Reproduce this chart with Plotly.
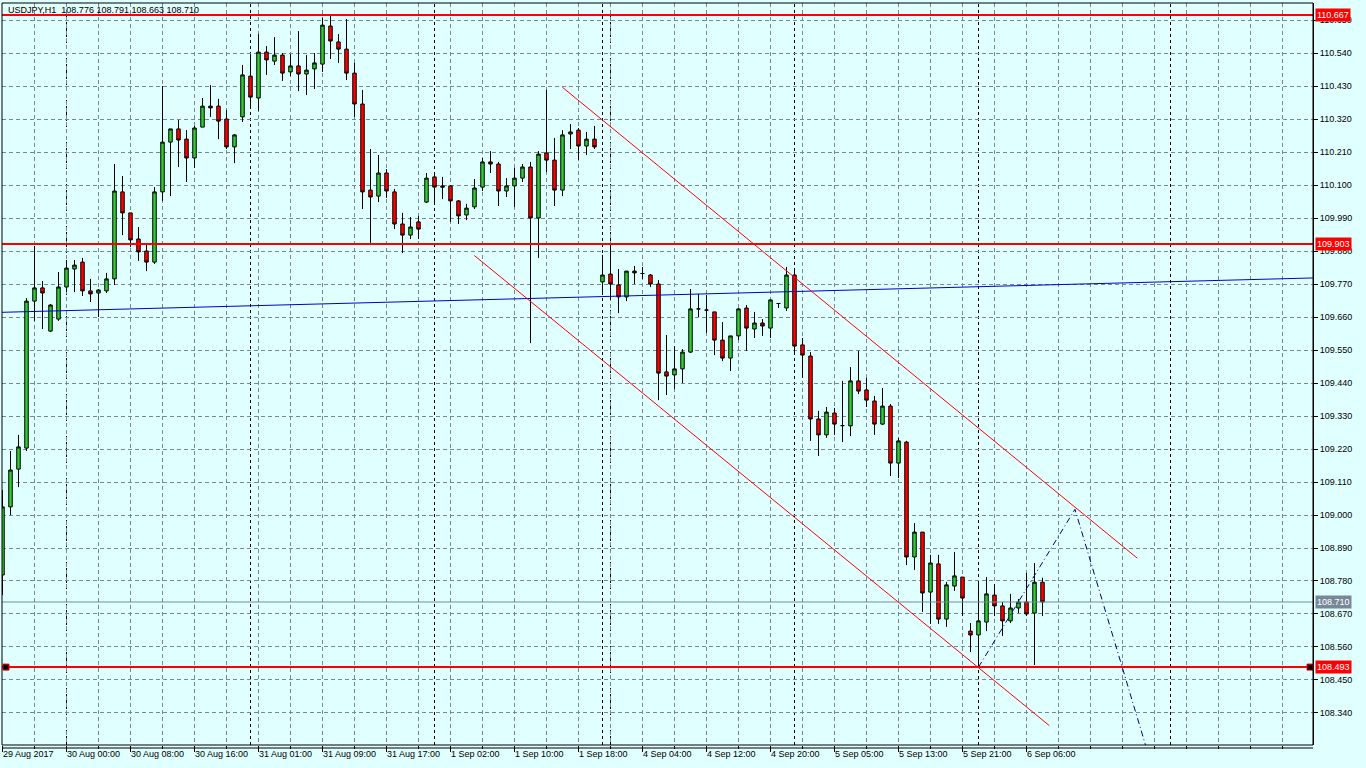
import plotly.graph_objects as go

# ---- hourly USDJPY candles (bar index 0 = 29 Aug 2017 16:00) ----
opens = [108.800, 109.027, 109.153, 109.223, 109.713, 109.757, 109.613, 109.653, 109.760, 109.820,
         109.843, 109.747, 109.740, 109.747, 109.787, 110.077, 110.007, 109.920, 109.880, 109.843,
         110.077, 110.243, 110.287, 110.253, 110.190, 110.293, 110.363, 110.363, 110.320, 110.227,
         110.327, 110.463, 110.390, 110.543, 110.513, 110.533, 110.477, 110.497, 110.470, 110.487,
         110.503, 110.630, 110.577, 110.553, 110.473, 110.370, 110.083, 110.063, 110.140, 110.077,
         109.970, 109.933, 109.977, 110.043, 110.127, 110.097, 110.097, 110.047, 110.000, 110.027,
         110.093, 110.177, 110.170, 110.080, 110.097, 110.123, 110.160, 109.990, 110.207, 110.183,
         110.083, 110.270, 110.283, 110.230, 110.253, 109.777, 109.803, 109.767, 109.727, 109.813,
         109.805, 109.800, 109.770, 109.477, 109.467, 109.487, 109.543, 109.687, 109.683, 109.677,
         109.583, 109.523, 109.597, 109.690, 109.620, 109.640, 109.623, 109.705, 109.690, 109.800,
         109.567, 109.530, 109.320, 109.267, 109.340, 109.298, 109.297, 109.447, 109.417, 109.380,
         109.303, 109.363, 109.173, 109.243, 108.860, 108.943, 108.743, 108.837, 108.653, 108.763,
         108.793, 108.613, 108.600, 108.643, 108.733, 108.697, 108.647, 108.690, 108.710, 108.673,
         108.776]
highs = [109.083, 109.213, 109.267, 109.723, 109.897, 109.780, 109.703, 109.810, 109.850, 109.850,
         109.857, 109.787, 109.753, 109.807, 110.170, 110.130, 110.007, 109.960, 109.900, 110.093,
         110.430, 110.287, 110.317, 110.283, 110.297, 110.390, 110.433, 110.387, 110.350, 110.270,
         110.500, 110.533, 110.603, 110.563, 110.593, 110.540, 110.537, 110.613, 110.533, 110.540,
         110.657, 110.667, 110.603, 110.653, 110.507, 110.417, 110.220, 110.200, 110.153, 110.087,
         110.007, 109.993, 109.997, 110.140, 110.140, 110.127, 110.100, 110.050, 110.037, 110.120,
         110.190, 110.213, 110.177, 110.123, 110.157, 110.170, 110.177, 110.213, 110.417, 110.257,
         110.283, 110.303, 110.290, 110.277, 110.297, 109.867, 109.900, 109.820, 109.813, 109.830,
         109.827, 109.803, 109.783, 109.600, 109.563, 109.553, 109.753, 109.737, 109.733, 109.677,
         109.643, 109.597, 109.690, 109.700, 109.677, 109.653, 109.717, 109.707, 109.827, 109.817,
         109.590, 109.543, 109.347, 109.360, 109.357, 109.447, 109.493, 109.547, 109.457, 109.397,
         109.423, 109.370, 109.257, 109.247, 108.973, 108.943, 108.867, 108.867, 108.777, 108.877,
         108.793, 108.640, 108.773, 108.793, 108.770, 108.710, 108.737, 108.720, 108.807, 108.840,
         108.791]
lows = [108.733, 109.000, 109.093, 109.213, 109.647, 109.620, 109.610, 109.647, 109.743, 109.743,
        109.730, 109.710, 109.660, 109.740, 109.767, 109.933, 109.893, 109.847, 109.813, 109.837,
        110.047, 110.063, 110.160, 110.110, 110.157, 110.293, 110.327, 110.253, 110.220, 110.173,
        110.310, 110.363, 110.347, 110.467, 110.500, 110.447, 110.463, 110.413, 110.400, 110.420,
        110.477, 110.520, 110.507, 110.450, 110.327, 110.020, 109.907, 110.043, 110.057, 109.953,
        109.873, 109.920, 109.920, 110.040, 110.037, 110.053, 109.977, 109.970, 109.983, 110.020,
        110.080, 110.140, 110.030, 110.060, 110.027, 110.110, 109.573, 109.857, 110.143, 110.030,
        110.063, 110.220, 110.183, 110.200, 110.220, 109.740, 109.717, 109.673, 109.713, 109.770,
        109.787, 109.760, 109.383, 109.400, 109.420, 109.440, 109.540, 109.660, 109.607, 109.533,
        109.513, 109.480, 109.583, 109.547, 109.590, 109.597, 109.590, 109.690, 109.680, 109.543,
        109.457, 109.247, 109.197, 109.257, 109.267, 109.243, 109.263, 109.403, 109.360, 109.267,
        109.300, 109.130, 109.123, 108.833, 108.817, 108.677, 108.637, 108.637, 108.627, 108.747,
        108.663, 108.543, 108.493, 108.613, 108.663, 108.597, 108.640, 108.673, 108.663, 108.500,
        108.663]
closes = [109.027, 109.150, 109.227, 109.713, 109.757, 109.740, 109.700, 109.760, 109.823, 109.833,
          109.747, 109.737, 109.750, 109.787, 110.080, 110.007, 109.917, 109.877, 109.843, 110.077,
          110.243, 110.287, 110.250, 110.190, 110.290, 110.363, 110.357, 110.313, 110.227, 110.267,
          110.467, 110.393, 110.543, 110.517, 110.533, 110.473, 110.497, 110.470, 110.483, 110.507,
          110.633, 110.580, 110.553, 110.473, 110.370, 110.077, 110.060, 110.140, 110.080, 109.970,
          109.933, 109.960, 109.953, 110.123, 110.093, 110.093, 110.047, 109.997, 110.023, 110.090,
          110.177, 110.170, 110.080, 110.097, 110.123, 110.160, 109.990, 110.203, 110.183, 110.083,
          110.267, 110.277, 110.230, 110.253, 110.227, 109.800, 109.770, 109.727, 109.813, 109.807,
          109.805, 109.770, 109.473, 109.463, 109.487, 109.543, 109.687, 109.687, 109.683, 109.583,
          109.523, 109.597, 109.687, 109.623, 109.640, 109.630, 109.717, 109.705, 109.800, 109.563,
          109.533, 109.320, 109.267, 109.343, 109.303, 109.298, 109.447, 109.413, 109.383, 109.303,
          109.363, 109.173, 109.247, 108.860, 108.943, 108.740, 108.840, 108.653, 108.767, 108.797,
          108.723, 108.600, 108.647, 108.737, 108.697, 108.647, 108.690, 108.710, 108.670, 108.776,
          108.710]
bar_index = list(range(len(opens)))

# time axis labels (every 8 bars)
time_tick_index = [0, 8, 16, 24, 32, 40, 48, 56, 64, 72, 80, 88, 96, 104, 112, 120, 128]
time_tick_text = ["29 Aug 2017", "30 Aug 00:00", "30 Aug 08:00", "30 Aug 16:00", "31 Aug 01:00",
                  "31 Aug 09:00", "31 Aug 17:00", "1 Sep 02:00", "1 Sep 10:00", "1 Sep 18:00",
                  "4 Sep 04:00", "4 Sep 12:00", "4 Sep 20:00", "5 Sep 05:00", "5 Sep 13:00",
                  "5 Sep 21:00", "6 Sep 06:00"]
day_separator_index = [8, 31, 54, 75, 76, 99, 122, 146]

# drawn objects
level_lines = [110.667, 109.903, 108.493]
bid_price = 108.710
upper_channel_x = [69.98, 141.85]
upper_channel_y = [110.426, 108.856]
lower_channel_x = [58.98, 130.85]
lower_channel_y = [109.865, 108.298]
trend_x = [-1.0, 165.0]
trend_y = [109.675, 109.791]
zigzag_x = [122.0, 134.06, 143.1]
zigzag_y = [108.493, 109.019, 108.213]

header = "USDJPY,H1  108.776 108.791 108.663 108.710"

BG = "#E0FFFF"
GRID = "#778899"
FONT = "Liberation Sans"

fig = go.Figure()
fig.add_trace(go.Candlestick(
    x=bar_index, open=opens, high=highs, low=lows, close=closes,
    increasing=dict(fillcolor="#32CD32", line=dict(color="black", width=1)),
    decreasing=dict(fillcolor="#FF0000", line=dict(color="black", width=1)),
    whiskerwidth=0, hoverinfo="skip", showlegend=False))

fig.add_trace(go.Scatter(x=trend_x, y=trend_y, mode="lines",
                         line=dict(color="#0000CD", width=1), hoverinfo="skip", showlegend=False))
fig.add_trace(go.Scatter(x=upper_channel_x, y=upper_channel_y, mode="lines",
                         line=dict(color="#FF0000", width=1), hoverinfo="skip", showlegend=False))
fig.add_trace(go.Scatter(x=lower_channel_x, y=lower_channel_y, mode="lines",
                         line=dict(color="#FF0000", width=1), hoverinfo="skip", showlegend=False))
fig.add_trace(go.Scatter(x=zigzag_x, y=zigzag_y, mode="lines",
                         line=dict(color="#000080", width=1, dash="6px,3px,1px,3px"),
                         hoverinfo="skip", showlegend=False))

shapes = []
for d in day_separator_index:
    shapes.append(dict(type="line", xref="x", yref="paper", x0=d, x1=d, y0=0, y1=1,
                       line=dict(color="black", width=1, dash="3px,3px"), layer="between"))
shapes.append(dict(type="line", xref="paper", yref="y", x0=0, x1=1, y0=bid_price, y1=bid_price,
                   line=dict(color=GRID, width=1), layer="above"))
for lv in level_lines:
    shapes.append(dict(type="line", xref="paper", yref="y", x0=0, x1=1, y0=lv, y1=lv,
                       line=dict(color="#FF0000", width=2), layer="above"))
# selection handles on the lowest level line
for anchor, a, b in [(0, 1, 7), (1, -6, 0)]:
    shapes.append(dict(type="rect", xref="paper", yref="y", xsizemode="pixel", ysizemode="pixel",
                       xanchor=anchor, yanchor=level_lines[2], x0=a, x1=b, y0=-3, y1=3,
                       fillcolor="black", line=dict(color="#FF0000", width=1), layer="above"))
# frame
shapes.append(dict(type="rect", xref="paper", yref="paper", x0=0, x1=1, y0=0, y1=1,
                   line=dict(color="black", width=1), layer="above"))
shapes.append(dict(type="line", xref="paper", yref="paper", ysizemode="pixel", yanchor=0,
                   x0=0, x1=1, y0=-3, y1=-3, line=dict(color="black", width=1), layer="above"))

annotations = [dict(xref="paper", yref="paper", x=0, y=1, xanchor="left", yanchor="top",
                    xshift=4, yshift=0, text=header, showarrow=False,
                    font=dict(family=FONT, size=9, color="black"))]
for lv in level_lines:
    annotations.append(dict(xref="paper", yref="y", x=1, y=lv, xanchor="left", yanchor="middle",
                            xshift=2, text=f"{lv:.3f}", showarrow=False, bgcolor="#FF0000",
                            borderpad=1, font=dict(family=FONT, size=9, color="white")))
annotations.append(dict(xref="paper", yref="y", x=1, y=bid_price, xanchor="left", yanchor="middle",
                        xshift=2, text=f"{bid_price:.3f}", showarrow=False, bgcolor=GRID,
                        borderpad=1, font=dict(family=FONT, size=9, color="white")))

minor_vals = [v for v in range(0, 168, 4) if v not in time_tick_index]

fig.update_layout(
    width=1366, height=768,
    margin=dict(l=2, r=53, t=3, b=23, autoexpand=False),
    paper_bgcolor=BG, plot_bgcolor=BG,
    boxgap=0.38,
    shapes=shapes, annotations=annotations,
    font=dict(family=FONT, size=9, color="black"),
    xaxis=dict(range=[-0.0625, 163.8125], rangeslider=dict(visible=False),
               tickmode="array", tickvals=time_tick_index, ticktext=time_tick_text,
               ticks="outside", ticklen=6, tickcolor="black", ticklabelposition="outside right",
               showgrid=True, gridcolor=GRID, griddash="4px,3px", gridwidth=1,
               minor=dict(tickmode="array", tickvals=minor_vals, ticks="outside", ticklen=3,
                          tickcolor="black", showgrid=True, gridcolor=GRID, griddash="4px,3px"),
               zeroline=False, showline=False, fixedrange=True,
               tickfont=dict(family=FONT, size=9, color="black")),
    yaxis=dict(range=[108.2333, 110.7067], side="right", tick0=108.34, dtick=0.11,
               tickformat=".3f", ticks="outside", ticklen=4, tickcolor="black",
               showgrid=True, gridcolor=GRID, griddash="4px,3px", gridwidth=1,
               zeroline=False, showline=True, linecolor="black", linewidth=1,
               tickfont=dict(family=FONT, size=9, color="black")),
)

fig.write_html("out.html", config={"displayModeBar": False},
               post_script="document.body.style.margin='0';document.body.style.background='#E0FFFF';")
